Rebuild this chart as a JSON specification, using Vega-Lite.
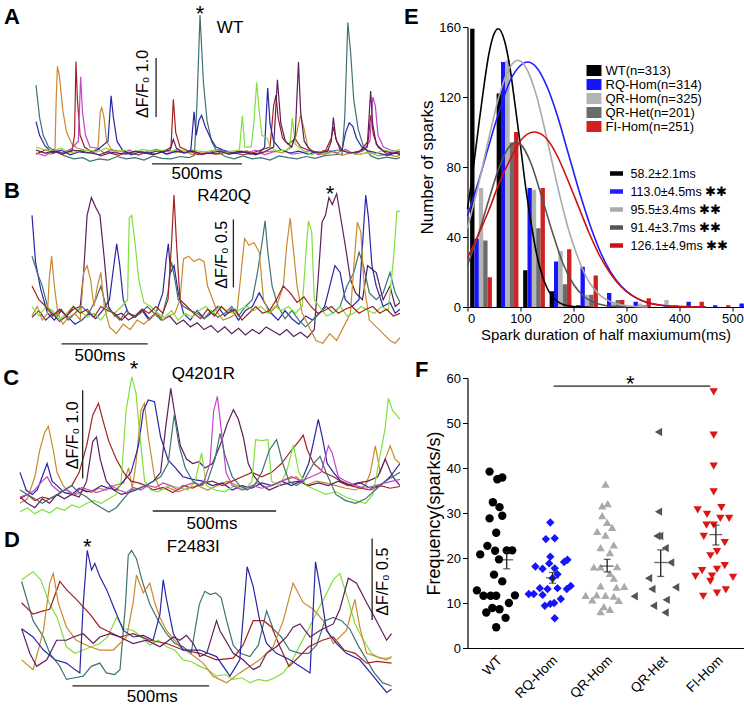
{
"$schema":"https://vega.github.io/schema/vega-lite/v6.json",
"padding":0,
"background":"white",
"spacing":3.5,
"resolve":{"scale":{"color":"independent","fill":"independent","stroke":"independent","shape":"independent"},"legend":{"color":"independent","fill":"independent","stroke":"independent","shape":"independent"}},
"config":{"view":{"stroke":null},"font":"Liberation Sans","axis":{"domainColor":"#000","tickColor":"#000","labelColor":"#000","titleColor":"#000","titleFontWeight":"normal","grid":false,"labelFont":"Liberation Sans","titleFont":"Liberation Sans"},"legend":{"labelFont":"Liberation Sans","labelColor":"#000"},"text":{"font":"Liberation Sans","color":"#000"}},
"datasets":{
"tr":[
{"p":"A","c":"teal","v":[[0,1.15],[20,0.6],[40,0.3],[70,0.1],[110,0.02],[160,-0.05],[210,-0.1],[260,-0.08],[300,-0.14],[350,-0.1],[400,-0.12],[450,-0.06],[500,-0.1],[550,-0.08],[600,-0.12],[650,-0.05],[700,-0.09],[750,-0.1],[800,-0.06],[850,-0.08],[880,-0.04],[895,0.9],[911,2.34],[930,1.2],[950,0.55],[975,0.2],[1000,0.05],[1050,-0.06],[1100,-0.1],[1150,-0.05],[1200,-0.1],[1250,-0.08],[1300,-0.12],[1350,-0.05],[1400,-0.08],[1450,-0.1],[1500,-0.06],[1550,-0.09],[1600,-0.05],[1650,-0.03],[1700,-0.02],[1715,0.6],[1732,2.21],[1748,1.7],[1765,0.9],[1790,0.4],[1820,0.1],[1860,-0.05],[1900,-0.1],[1950,-0.07],[2000,-0.1],[2022,-0.08]]},
{"p":"A","c":"orange","v":[[0,0.05],[40,0],[80,-0.02],[105,0],[112,0.9],[119,1.47],[130,1.3],[150,0.7],[170,0.35],[200,0.15],[230,0.08],[270,0.05],[320,0.02],[345,0.1],[357,0.7],[365,0.77],[378,0.6],[392,0.2],[420,0.05],[470,0.03],[520,-0.02],[570,0.04],[620,0],[670,0.03],[720,0.05],[770,0],[820,0.04],[870,-0.03],[920,0.02],[970,0],[1020,-0.02],[1070,0.03],[1120,0],[1170,0.04],[1220,-0.02],[1270,0.02],[1320,0.03],[1370,0],[1420,0.1],[1445,0.3],[1470,0.64],[1490,0.4],[1510,0.1],[1550,0],[1600,-0.03],[1650,0.02],[1700,-0.04],[1750,0],[1800,-0.03],[1850,0.02],[1900,-0.05],[1950,-0.02],[2000,-0.06],[2022,-0.04]]},
{"p":"A","c":"red","v":[[0,-0.02],[50,0.05],[100,0.02],[150,0],[200,0.03],[214,0.3],[222,1.55],[230,0.9],[245,0.3],[270,0.1],[310,0.02],[360,-0.05],[410,0],[460,-0.04],[510,0.02],[560,-0.03],[610,0],[660,-0.02],[710,0.02],[750,0.1],[763,0.91],[776,0.35],[800,0.1],[850,0.03],[900,-0.03],[950,0],[1000,-0.02],[1050,0.02],[1100,0],[1150,-0.03],[1200,0],[1250,0.05],[1300,0.1],[1320,0.8],[1333,0.98],[1345,0.6],[1370,0.25],[1400,0.15],[1440,0.24],[1470,0.1],[1510,0.05],[1560,0],[1610,0.05],[1640,0.25],[1652,0.44],[1670,0.2],[1700,0.05],[1750,0],[1800,0.03],[1845,0.2],[1859,0.64],[1875,0.3],[1900,0.1],[1950,-0.02],[2000,0],[2022,-0.03]]},
{"p":"A","c":"magenta","v":[[0,0],[50,-0.05],[100,0.06],[150,0],[200,0.08],[235,0.2],[248,1.29],[258,0.7],[275,0.3],[300,0.1],[340,0.08],[380,0],[420,0.06],[470,-0.02],[520,0.05],[570,-0.04],[620,0.03],[670,0.06],[720,-0.02],[770,0.04],[820,0],[870,0.05],[920,-0.03],[970,0.02],[1020,0.06],[1070,-0.02],[1120,0.03],[1170,0],[1220,0.05],[1270,-0.03],[1320,0.02],[1370,0.05],[1420,-0.02],[1470,0],[1520,0.04],[1570,-0.03],[1620,0.05],[1670,0],[1720,0.06],[1770,-0.02],[1820,0.04],[1855,0.2],[1871,0.95],[1885,0.8],[1900,0.3],[1930,0.1],[1970,0.05],[2022,0.02]]},
{"p":"A","c":"blue","v":[[0,0.53],[20,0.3],[50,0.12],[90,0],[140,0.05],[190,-0.03],[240,0.02],[290,0],[340,0.05],[400,0.2],[417,0.97],[430,0.6],[450,0.2],[480,0.05],[530,-0.03],[580,0.02],[630,0],[680,0.04],[730,-0.02],[780,0.03],[830,0],[860,0.05],[878,0.7],[890,0.3],[905,0.55],[920,0.64],[940,0.45],[970,0.25],[1000,0.1],[1040,0.05],[1090,0],[1140,0.03],[1190,-0.02],[1240,0],[1270,0.1],[1287,1.1],[1300,0.5],[1320,0.2],[1360,0.05],[1410,0],[1460,0.03],[1510,-0.02],[1560,0.02],[1610,0],[1660,0.04],[1700,0.05],[1720,0.35],[1740,0.51],[1760,0.45],[1780,0.25],[1810,0.1],[1850,0.03],[1900,0],[1950,-0.04],[2000,0],[2022,-0.02]]},
{"p":"A","c":"green","v":[[0,0.1],[40,0.06],[90,0.03],[140,0.08],[190,0],[240,0.04],[290,0.05],[340,0.02],[390,0.08],[440,0.02],[490,0.05],[540,0],[590,0.06],[640,0.03],[690,0.05],[740,0.02],[790,0.07],[840,0],[890,0.04],[940,0.02],[990,0.05],[1040,0],[1090,0.03],[1130,0.05],[1146,0.63],[1160,0.1],[1195,0.1],[1210,0.5],[1226,1.2],[1240,0.7],[1255,0.3],[1285,0.25],[1300,0.1],[1340,0.03],[1390,0.05],[1410,0.1],[1424,0.59],[1440,0.15],[1480,0.05],[1530,-0.03],[1580,0.02],[1630,0],[1680,0.05],[1730,0.02],[1780,-0.03],[1830,0],[1880,-0.02],[1930,0.05],[1980,0.02],[2022,0.06]]},
{"p":"A","c":"purple","v":[[0,0.05],[50,0],[100,0.03],[150,-0.02],[200,0.05],[250,0.03],[300,0],[350,-0.03],[400,0.02],[450,0],[500,-0.02],[550,0.03],[600,0],[650,-0.03],[700,0.02],[745,0.05],[763,0.23],[780,0.08],[820,0],[870,0.03],[920,-0.02],[970,0],[1020,0.03],[1070,-0.02],[1120,0],[1170,0.02],[1220,-0.03],[1270,0.02],[1320,0.1],[1341,1.24],[1360,0.5],[1385,0.2],[1420,0.1],[1440,0.3],[1458,1.54],[1470,0.7],[1490,0.2],[1520,0.05],[1570,0],[1620,0.03],[1640,0.2],[1652,0.6],[1665,0.25],[1690,0.05],[1740,0],[1790,0.02],[1840,0.1],[1859,1.05],[1870,0.5],[1890,0.15],[1930,0.03],[1980,0],[2022,0.02]]},
{"p":"B","c":"purple","v":[[0,-0.03],[40,0.02],[80,-0.05],[120,0],[160,-0.06],[200,-0.02],[240,0.03],[280,0.05],[300,0.3],[320,0.72],[345,0.85],[370,0.78],[395,0.72],[420,0.4],[445,0.05],[480,-0.02],[520,0],[560,-0.05],[600,-0.02],[640,0.03],[680,-0.04],[720,0],[760,-0.05],[800,-0.02],[840,-0.08],[880,-0.05],[920,-0.1],[960,-0.07],[1000,-0.12],[1040,-0.09],[1080,-0.14],[1120,-0.1],[1160,-0.15],[1200,-0.11],[1240,-0.16],[1280,-0.12],[1320,-0.15],[1360,-0.1],[1400,-0.13],[1440,-0.16],[1480,-0.12],[1520,-0.17],[1560,-0.14],[1600,-0.18],[1640,-0.12],[1665,0.3],[1685,0.67],[1705,0.72],[1725,0.85],[1745,0.8],[1770,0.88],[1790,0.73],[1820,0.5],[1850,0.25],[1880,0.15],[1920,0.1],[1950,0.35],[2000,0.3],[2040,0.1],[2080,0.2],[2110,0.05],[2138,0.08]]},
{"p":"B","c":"blue","v":[[0,0.72],[20,0.38],[50,0.18],[90,0],[130,-0.05],[170,0.02],[210,-0.03],[250,-0.08],[290,-0.05],[330,0],[370,-0.04],[410,0.02],[450,0.1],[470,0.3],[492,0.51],[510,0.35],[530,0.1],[560,0],[600,-0.03],[640,0.02],[680,-0.05],[720,0],[760,0.15],[780,0.4],[792,0.51],[805,0.3],[825,0.35],[850,0.15],[880,0],[920,-0.05],[960,0.02],[1000,-0.04],[1040,0],[1080,0.05],[1120,-0.02],[1160,0.03],[1200,-0.05],[1240,0.02],[1280,0.05],[1320,0.15],[1350,0.08],[1390,0],[1430,-0.05],[1470,0.02],[1510,-0.04],[1550,-0.08],[1590,-0.02],[1630,-0.05],[1670,0],[1700,0.05],[1730,0.2],[1760,0.35],[1790,0.3],[1820,0.1],[1860,0.05],[1900,0.1],[1925,0.6],[1939,0.87],[1955,0.7],[1975,0.35],[2000,0.2],[2040,0.05],[2080,0.08],[2110,0],[2138,0.03]]},
{"p":"B","c":"teal","v":[[0,0.42],[30,0.3],[60,0.2],[90,0.05],[130,-0.02],[170,0.03],[210,-0.05],[250,0],[290,0.05],[330,0],[370,0.1],[400,0.2],[430,0.05],[470,0],[510,-0.05],[550,0.02],[590,-0.03],[630,0],[670,0.05],[710,0],[750,-0.05],[790,0.15],[810,0.38],[830,0.25],[850,0.1],[880,0.05],[920,0.02],[960,0],[1000,-0.04],[1040,0.02],[1080,-0.03],[1120,0],[1160,0.05],[1200,-0.02],[1240,0.05],[1280,0.1],[1310,0.3],[1340,0.55],[1354,0.68],[1370,0.45],[1395,0.2],[1430,0.05],[1470,-0.04],[1510,0.02],[1550,-0.05],[1590,-0.1],[1630,-0.05],[1670,0],[1710,0.05],[1750,0],[1790,0.05],[1830,0.2],[1870,0.3],[1900,0.45],[1925,0.35],[1960,0.15],[2000,0.1],[2040,0.15],[2080,0.3],[2110,0.15],[2138,0.08]]},
{"p":"B","c":"orange","v":[[0,-0.02],[30,0.05],[60,-0.05],[90,0],[100,0.25],[114,0.42],[130,0.2],[150,0],[180,-0.08],[210,-0.03],[250,0],[280,-0.05],[300,0.3],[320,0.35],[340,0.25],[360,0.05],[380,0.2],[400,0.3],[420,0.05],[450,-0.1],[490,-0.15],[530,-0.08],[570,-0.12],[610,-0.05],[650,-0.08],[690,-0.03],[730,0],[760,-0.05],[790,-0.02],[830,0],[860,0.1],[880,0.4],[910,0.42],[940,0.38],[970,0.4],[1000,0.38],[1020,0.2],[1050,0.1],[1080,0],[1110,-0.05],[1150,-0.03],[1190,0],[1215,0.3],[1235,0.55],[1260,0.5],[1290,0.52],[1320,0.45],[1345,0.1],[1380,0],[1420,0.05],[1460,0.2],[1480,0.5],[1500,0.7],[1520,0.45],[1540,0.2],[1570,0],[1610,-0.1],[1650,-0.2],[1690,-0.22],[1730,-0.15],[1770,-0.2],[1810,-0.1],[1850,0],[1870,0.35],[1890,0.67],[1910,0.6],[1930,0.2],[1960,-0.05],[2000,-0.1],[2040,-0.15],[2080,-0.2],[2110,-0.22],[2138,-0.18]]},
{"p":"B","c":"green","v":[[0,0.05],[40,-0.02],[80,0.05],[120,0.02],[160,-0.05],[200,0],[240,0.05],[280,0.02],[320,-0.03],[360,0],[400,-0.05],[440,0.02],[480,0],[520,0.05],[555,0.1],[565,0.7],[579,0.72],[600,0.5],[620,0.25],[650,0.08],[690,0.05],[730,0],[770,-0.03],[810,0.02],[850,-0.05],[890,0],[930,-0.03],[970,0.02],[1010,0.05],[1050,0],[1090,0.05],[1130,0.02],[1170,0],[1210,0.03],[1250,0.05],[1290,0.02],[1330,0.05],[1370,0],[1410,0.05],[1450,0.02],[1490,0.05],[1530,0],[1570,0.05],[1595,0.5],[1606,0.68],[1625,0.6],[1640,0.1],[1670,0.05],[1710,-0.02],[1750,0],[1790,0.05],[1830,-0.02],[1870,0],[1910,0.05],[1950,0.02],[1990,0],[2030,0.05],[2070,0.02],[2100,0.4],[2120,0.75],[2138,0.75]]},
{"p":"B","c":"red","v":[[0,0.2],[40,0.1],[80,0.05],[120,-0.02],[160,0.03],[200,-0.02],[240,0.05],[280,0],[320,0.03],[360,-0.03],[400,0.05],[440,0.02],[480,0],[520,-0.05],[560,0],[600,-0.02],[640,0.03],[680,0],[720,0.05],[760,0],[790,0.1],[810,0.5],[825,0.87],[840,0.5],[860,0.1],[900,0.05],[940,0],[980,-0.04],[1020,0.03],[1060,-0.02],[1100,0.05],[1140,0],[1180,0.03],[1220,-0.05],[1260,0],[1300,0.05],[1340,0],[1380,0.02],[1420,0.1],[1460,0.2],[1500,0.15],[1540,0.08],[1580,0.12],[1620,0.05],[1660,0],[1700,0.02],[1740,0.05],[1780,0],[1820,0.03],[1860,0.05],[1900,0],[1940,0.03],[1980,0.05],[2020,0],[2060,0.03],[2100,-0.02],[2138,0]]},
{"p":"C","c":"orange","v":[[0,-0.15],[30,-0.1],[60,0.15],[80,0.45],[100,0.65],[115,0.72],[135,0.45],[150,0.2],[175,0.05],[200,-0.03],[230,-0.05],[260,0],[290,-0.03],[320,0.02],[350,0],[380,0.05],[420,0.08],[440,0.25],[455,0.02],[470,0.3],[490,0.9],[504,0.98],[520,0.6],[545,0.15],[570,0],[600,0.03],[640,-0.02],[680,0.02],[720,0.05],[760,0],[800,0.05],[840,0.1],[880,0.05],[920,0.02],[960,0.08],[1000,0.03],[1040,0.08],[1080,0.12],[1120,0.15],[1160,0.05],[1200,0.1],[1240,0.08],[1280,0.05],[1320,0.02],[1360,0],[1400,0.05],[1420,0.2],[1440,0.5],[1460,0.2],[1480,0.35],[1500,0.5],[1520,0.35],[1540,0.3]]},
{"p":"C","c":"blue","v":[[0,0.2],[25,0],[50,-0.05],[70,0],[90,0.15],[110,0.3],[130,0.1],[150,0.05],[180,-0.03],[210,-0.05],[240,0.02],[270,-0.02],[300,0],[330,0.05],[360,0.02],[390,0],[420,0.1],[450,0.2],[480,0.5],[500,0.9],[520,1.02],[545,1],[570,0.6],[600,0.34],[630,0.25],[660,0.15],[700,0.12],[740,0.1],[780,0.05],[820,0.08],[860,0],[900,0.05],[940,0.02],[980,0.08],[1020,0.05],[1060,0.1],[1100,0.05],[1140,0.1],[1170,0.3],[1190,0.55],[1209,0.8],[1225,0.6],[1245,0.3],[1270,0.2],[1300,0.1],[1340,0.05],[1380,0.08],[1420,0.02],[1460,0.05],[1500,0.15],[1540,0.3]]},
{"p":"C","c":"red","v":[[0,-0.1],[30,-0.05],[60,-0.12],[90,-0.08],[120,-0.1],[150,-0.06],[180,0],[210,0.05],[240,0.2],[270,0.5],[295,0.85],[318,0.98],[335,0.8],[360,0.55],[390,0.35],[420,0.2],[450,0.1],[480,0.08],[510,0.05],[540,0],[580,0.03],[620,-0.03],[660,0.05],[700,0.02],[740,0.08],[780,0.1],[820,0.05],[860,0.1],[900,0.15],[940,0.2],[980,0.15],[1020,0.2],[1060,0.3],[1100,0.45],[1130,0.55],[1148,0.62],[1165,0.45],[1190,0.3],[1230,0.2],[1270,0.15],[1300,0.1],[1340,0.05],[1380,0.02],[1420,0],[1460,0.05],[1500,0.02],[1540,0.04]]},
{"p":"C","c":"purple","v":[[0,-0.08],[30,-0.15],[60,-0.2],[90,-0.1],[120,-0.15],[150,-0.05],[180,-0.1],[210,-0.05],[240,-0.08],[270,0.1],[295,0.55],[310,0.6],[325,0.35],[350,0.1],[380,0],[410,-0.05],[440,-0.03],[470,0],[510,0.05],[540,0.1],[570,0.2],[590,0.7],[611,1.15],[625,0.9],[650,0.5],[675,0.35],[700,0.3],[725,0.32],[750,0.25],[780,0.3],[810,0.5],[840,0.75],[865,0.91],[885,0.8],[905,0.6],[925,0.3],[950,0.15],[980,0.05],[1010,0],[1050,0.05],[1090,0.08],[1130,0.1],[1170,0.05],[1210,0.08],[1250,0.05],[1290,0.1],[1330,0.05],[1370,0.08],[1410,0.1],[1450,0.15],[1480,0.35],[1510,0.15],[1540,0.05]]},
{"p":"C","c":"green","v":[[0,-0.25],[30,-0.2],[60,-0.27],[90,-0.22],[120,-0.26],[150,-0.2],[180,-0.23],[210,-0.17],[240,-0.2],[270,-0.15],[300,-0.12],[330,-0.15],[360,-0.1],[390,-0.05],[410,0.1],[430,0.9],[453,1.28],[470,1.1],[490,0.5],[505,0.1],[530,0],[560,-0.02],[600,0.05],[640,0.03],[680,0],[710,0.1],[736,0.42],[755,0.05],[790,0],[830,-0.02],[870,0.05],[910,0],[940,0.1],[955,0.57],[980,0.56],[1005,0.57],[1020,0.1],[1050,0.05],[1080,0.2],[1108,0.51],[1130,0.2],[1160,0.05],[1200,0],[1240,-0.05],[1280,-0.02],[1320,-0.08],[1360,-0.12],[1400,-0.15],[1430,-0.05],[1460,0.4],[1480,0.7],[1493,1.04],[1510,0.9],[1540,0.8]]},
{"p":"C","c":"magenta","v":[[0,-0.08],[30,-0.05],[60,0],[90,0.1],[110,0.15],[130,0.05],[160,-0.02],[190,0],[220,-0.05],[250,0.03],[280,0],[310,-0.03],[340,0],[370,0.05],[400,0],[430,-0.03],[460,0.03],[490,0],[520,0.05],[550,0.03],[580,0.08],[610,0.05],[640,0],[670,0.05],[700,0.08],[740,0.05],[770,0.3],[785,0.9],[800,1.06],[815,0.7],[835,0.2],[860,0.05],[900,0],[940,0.05],[980,0.02],[1020,0.05],[1060,0.1],[1100,0.15],[1140,0.1],[1180,0.15],[1220,0.2],[1250,0.5],[1265,0.42],[1290,0.15],[1320,0.1],[1360,0.05],[1400,0.02],[1440,0.05],[1480,0.08],[1510,0.1],[1540,0.12]]},
{"p":"C","c":"teal","v":[[0,0],[30,-0.05],[60,-0.1],[90,-0.15],[120,-0.1],[150,-0.05],[180,0],[210,0.05],[240,-0.03],[270,-0.08],[300,-0.15],[330,-0.2],[360,-0.25],[390,-0.2],[420,-0.1],[450,0],[480,0.02],[510,0.05],[540,0.1],[570,0.15],[600,0.3],[625,0.85],[645,0.5],[670,0.25],[700,0.1],[730,0.05],[760,0.1],[790,0.35],[811,0.64],[830,0.4],[860,0.15],[890,0.05],[920,0],[950,0.05],[980,0.2],[1010,0.45],[1040,0.57],[1065,0.3],[1090,0.1],[1120,0.05],[1150,0.1],[1190,0.3],[1216,0.38],[1240,0.2],[1280,-0.05],[1320,-0.12],[1360,-0.15],[1400,-0.1],[1440,0],[1480,0.1],[1510,0.15],[1540,0.2]]},
{"p":"D","c":"green","v":[[0,0.45],[42,0.5],[70,0.45],[103,0.3],[130,0.22],[164,0.04],[195,0],[225,0.02],[255,0.04],[286,0.06],[315,0.1],[347,0.22],[375,0.15],[408,0.14],[440,0.1],[469,0.05],[500,0.08],[530,0.04],[560,0.02],[591,-0.04],[620,-0.05],[652,-0.08],[680,-0.1],[713,-0.14],[745,-0.13],[774,-0.16],[805,-0.15],[835,-0.18],[866,-0.16],[896,-0.17],[927,-0.15],[957,-0.12],[988,-0.05],[1018,0.05],[1050,0.15],[1079,0.25],[1110,0.35],[1140,0.45],[1164,0.49],[1190,0.35],[1220,0.18],[1250,0.08],[1280,0],[1310,-0.03],[1353,-0.03]]},
{"p":"D","c":"teal","v":[[0,0.44],[42,0.2],[80,0.1],[103,0],[140,-0.08],[164,-0.16],[195,-0.15],[225,-0.14],[255,-0.08],[286,-0.06],[310,-0.12],[340,-0.13],[360,-0.1],[380,0.3],[390,0.6],[402,0.63],[420,0.58],[440,0.45],[469,0.3],[500,0.2],[530,0.12],[560,0.06],[591,0.04],[620,0],[650,0.3],[670,0.38],[690,0.36],[710,0.37],[730,0.34],[750,0.2],[774,0.05],[800,0],[835,-0.02],[866,0.05],[896,0.26],[920,0.15],[950,0.1],[980,0.02],[1018,0],[1050,0],[1079,0.05],[1110,0.2],[1140,0.22],[1170,0.2],[1200,0.15],[1230,0.05],[1262,-0.04],[1290,-0.12],[1320,-0.18],[1353,-0.2]]},
{"p":"D","c":"red","v":[[0,0.31],[42,0.24],[80,0.26],[103,0.27],[140,0.44],[164,0.39],[200,0.33],[250,0.24],[286,0.16],[335,0.12],[360,0.1],[408,0.12],[469,0.08],[530,0.06],[591,0.02],[652,0],[713,-0.04],[774,-0.03],[810,0.05],[847,0.2],[885,0.2],[915,0.16],[945,0.04],[978,-0.08],[1015,-0.02],[1050,0.04],[1100,0.08],[1140,0.1],[1180,0.02],[1220,0],[1262,-0.06],[1300,-0.05],[1353,-0.06]]},
{"p":"D","c":"orange","v":[[0,-0.04],[42,-0.1],[80,0.14],[103,0.43],[116,0.49],[134,0.31],[164,0.16],[200,0.08],[250,0.04],[286,0.02],[335,0.02],[384,0.1],[408,0.31],[420,0.48],[445,0.37],[469,0.43],[487,0.31],[506,0.22],[530,0.14],[579,0.04],[616,0],[664,-0.06],[700,-0.14],[750,-0.18],[798,-0.12],[871,-0.04],[920,0.04],[957,0.2],[993,0.43],[1030,0.31],[1067,0.27],[1103,0.2],[1140,0.06],[1188,0.14],[1219,0.33],[1237,0.16],[1262,0],[1298,-0.02],[1335,-0.04],[1353,-0.02]]},
{"p":"D","c":"blue","v":[[0,0.15],[42,0.1],[80,0.02],[122,-0.04],[164,-0.06],[195,-0.1],[213,-0.12],[225,0.29],[240,0.63],[256,0.51],[268,0.55],[286,0.47],[311,0.39],[335,0.29],[372,0.14],[408,0.1],[445,0.11],[481,0.08],[506,0.24],[518,0.45],[530,0.33],[555,0.12],[591,0.02],[652,0.02],[713,-0.02],[762,-0.14],[798,-0.04],[825,0.53],[847,0.41],[871,0.2],[896,0.06],[932,0],[981,-0.04],[1018,-0.08],[1055,-0.12],[1075,0.56],[1091,0.41],[1115,0.14],[1152,0.06],[1188,0],[1237,-0.04],[1286,-0.14],[1335,-0.24],[1353,-0.22]]},
{"p":"D","c":"purple","v":[[0,0.15],[30,0],[55,-0.08],[92,-0.04],[128,0.08],[164,0.08],[189,0.1],[225,0.12],[262,0.06],[286,0.1],[323,0.12],[359,0.1],[408,0.06],[457,0.08],[506,0.04],[555,0.1],[579,0.08],[603,0.11],[628,0.06],[652,-0.02],[677,0],[713,0.2],[725,0.14],[774,0],[810,-0.04],[847,-0.1],[871,-0.08],[896,0],[932,0.04],[969,0.1],[993,0.16],[1018,0.18],[1055,0.1],[1091,0.14],[1140,0.18],[1164,0.27],[1195,0.46],[1225,0.43],[1262,0.31],[1298,0.2],[1335,0.08],[1353,0.12]]}
],
"sc":[
{"p":"A","t":644,"t2":1144,"y":-0.186,"y2":-0.186},{"p":"A","t":667,"t2":667,"y":0.61,"y2":1.61},
{"p":"B","t":172,"t2":672,"y":-0.225,"y2":-0.225},{"p":"B","t":1170,"t2":1170,"y":0.19,"y2":0.69},
{"p":"C","t":538,"t2":1038,"y":-0.238,"y2":-0.238},{"p":"C","t":254,"t2":254,"y":0.13,"y2":1.13},
{"p":"D","t":186,"t2":686,"y":-0.2,"y2":-0.2},{"p":"D","t":1282,"t2":1282,"y":0.204,"y2":0.704}
],
"ann":[
{"p":"A","k":"L","t":-133,"y":2.31,"s":"A"},{"p":"A","k":"N","t":1078,"y":2.12,"s":"WT"},{"p":"A","k":"S","t":911,"y":2.36,"s":"*"},{"p":"A","k":"N","t":894,"y":-0.356,"s":"500ms"},{"p":"A","k":"R","t":594,"y":1.17,"s":"ΔF/F₀ 1.0"},
{"p":"B","k":"L","t":-116,"y":0.9,"s":"B"},{"p":"B","k":"N","t":1116,"y":0.86,"s":"R420Q"},{"p":"B","k":"S","t":1732,"y":0.877,"s":"*"},{"p":"B","k":"N","t":395,"y":-0.314,"s":"500ms"},{"p":"B","k":"R","t":1102,"y":0.43,"s":"ΔF/F₀ 0.5"},
{"p":"C","k":"L","t":-36,"y":1.27,"s":"C"},{"p":"C","k":"N","t":743,"y":1.31,"s":"Q4201R"},{"p":"C","k":"S","t":462,"y":1.37,"s":"*"},{"p":"C","k":"N","t":778,"y":-0.385,"s":"500ms"},{"p":"C","k":"R","t":216,"y":0.62,"s":"ΔF/F₀ 1.0"},
{"p":"D","k":"L","t":-35,"y":0.694,"s":"D"},{"p":"D","k":"N","t":628,"y":0.653,"s":"F2483I"},{"p":"D","k":"S","t":240,"y":0.651,"s":"*"},{"p":"D","k":"N","t":478,"y":-0.27,"s":"500ms"},{"p":"D","k":"R","t":1322,"y":0.439,"s":"ΔF/F₀ 0.5"}
],
"hist":[
{"b":0,"g":"WT","n":159},{"b":50,"g":"WT","n":122},{"b":100,"g":"WT","n":21},{"b":150,"g":"WT","n":9},{"b":200,"g":"WT","n":1},
{"b":0,"g":"RQ-Hom","n":39},{"b":50,"g":"RQ-Hom","n":140},{"b":100,"g":"RQ-Hom","n":68},{"b":150,"g":"RQ-Hom","n":26},{"b":200,"g":"RQ-Hom","n":23},{"b":250,"g":"RQ-Hom","n":8},{"b":300,"g":"RQ-Hom","n":3},{"b":400,"g":"RQ-Hom","n":3},{"b":450,"g":"RQ-Hom","n":1},{"b":500,"g":"RQ-Hom","n":2},
{"b":0,"g":"QR-Hom","n":68},{"b":50,"g":"QR-Hom","n":141},{"b":100,"g":"QR-Hom","n":67},{"b":150,"g":"QR-Hom","n":32},{"b":200,"g":"QR-Hom","n":7},{"b":250,"g":"QR-Hom","n":3},{"b":300,"g":"QR-Hom","n":2},{"b":350,"g":"QR-Hom","n":4},
{"b":0,"g":"QR-Het","n":38},{"b":50,"g":"QR-Het","n":94},{"b":100,"g":"QR-Het","n":45},{"b":150,"g":"QR-Het","n":13},{"b":200,"g":"QR-Het","n":7},{"b":250,"g":"QR-Het","n":4},{"b":300,"g":"QR-Het","n":1},
{"b":0,"g":"FI-Hom","n":17},{"b":50,"g":"FI-Hom","n":100},{"b":100,"g":"FI-Hom","n":68},{"b":150,"g":"FI-Hom","n":33},{"b":200,"g":"FI-Hom","n":18},{"b":250,"g":"FI-Hom","n":4},{"b":300,"g":"FI-Hom","n":5},{"b":350,"g":"FI-Hom","n":1},{"b":400,"g":"FI-Hom","n":3},{"b":450,"g":"FI-Hom","n":1}
],
"fit":[
{"h":"58.2±2.1ms","v":[[0,56],[10,77],[20,101],[30,124],[40,144],[50,156],[58,159],[70,152],[80,137],[90,115],[100,92],[110,68],[120,48],[130,31],[140,19],[150,11],[160,6],[180,1.5],[200,0.3],[230,0]]},
{"h":"113.0±4.5ms","v":[[0,52],[20,71],[40,92],[60,112],[80,129],[100,138],[113,140],[130,137],[150,126],[170,109],[190,88],[210,67],[230,48],[250,32],[270,20],[290,12],[310,6.8],[330,3.5],[350,1.7],[370,0.8],[400,0.2],[450,0]]},
{"h":"95.5±3.4ms","v":[[0,45],[20,69],[40,96],[60,121],[80,137],[95,141],[110,137],[130,121],[150,96],[170,69],[190,45],[210,27],[230,14],[250,6.8],[270,3],[290,1.2],[310,0.4],[340,0]]},
{"h":"91.4±3.7ms","v":[[0,24],[20,41],[40,61],[60,80],[80,92],[91,94],[100,93],[120,82],[140,63],[160,43],[180,25],[200,13],[220,6],[240,2.4],[260,0.9],[280,0.3],[300,0]]},
{"h":"126.1±4.9ms","v":[[0,28],[20,41],[40,55],[60,71],[80,84],[100,95],[126,100],[150,96],[170,86],[190,72],[210,57],[230,42],[250,29],[270,19],[290,11.6],[310,6.6],[330,3.6],[350,1.8],[370,0.85],[400,0.2],[450,0]]}
],
"pts":[
{"g":"WT","v":[[-0.1,39.2],[0.04,37.5],[0.13,37.9],[-0.04,32.4],[0.08,31.3],[-0.1,28.8],[0.13,29.4],[0.02,25.6],[-0.27,20.8],[-0.14,22.7],[0,21.6],[0.07,19.7],[0.21,21.7],[0.31,21.7],[-0.02,16.3],[0.13,14.8],[-0.33,12.8],[-0.21,11.6],[-0.08,11.6],[0.02,11.6],[0.36,11.7],[0.25,10],[-0.16,7.9],[-0.05,8.9],[0.08,8.6],[0.19,6.7],[0.02,4.6]]},
{"g":"RQ-Hom","v":[[0,27.9],[-0.08,24.2],[0.08,24.4],[0,20.3],[-0.27,18.1],[-0.14,17.6],[-0.02,18.8],[0.08,17.7],[0.25,19.1],[0.31,19.6],[0.13,16.4],[0.04,15.5],[-0.19,13.3],[-0.05,13.1],[-0.3,12],[-0.39,12],[-0.14,11.8],[0.13,13.3],[0.3,13.1],[0.37,13.8],[0.19,10.9],[-0.1,9.4],[0,9.8],[0.07,10],[0.08,6.6]]},
{"g":"QR-Hom","v":[[0,36.4],[-0.06,31.6],[0.04,32.1],[-0.06,29.4],[0.03,27.9],[0.12,26.8],[-0.15,25.9],[0,25.1],[-0.09,22.3],[0.15,22.9],[0.08,21.2],[-0.21,18],[-0.09,18],[0.21,18.1],[0.08,16.6],[0.15,15.5],[-0.09,13.8],[0.2,13.5],[0.34,13.7],[-0.36,11.7],[-0.16,11.8],[0,11.7],[0.15,11.5],[-0.24,10.7],[0.24,10.6],[-0.03,9.2],[-0.09,8.1],[0.08,8.6]]},
{"g":"QR-Het","v":[[-0.04,48],[-0.04,30.3],[-0.07,24.9],[-0.02,24.9],[0.08,22.2],[-0.22,15.5],[0.18,19],[-0.16,13.1],[-0.48,11.5],[0.27,13.5],[0.1,10.7],[-0.13,9.4],[0.08,7.9]]},
{"g":"FI-Hom","v":[[-0.04,56.9],[-0.04,47.3],[-0.04,40.4],[-0.04,34.7],[-0.33,30.7],[-0.16,29.7],[0.1,31.2],[0.08,28.8],[0.24,28.8],[-0.17,27.3],[-0.04,27.3],[-0.22,24.8],[0.16,23.4],[-0.1,20.5],[0.02,21.4],[-0.25,17.2],[0.02,17.5],[0.16,18.3],[-0.07,16],[-0.37,15.9],[0.31,15.7],[-0.1,14.8],[-0.23,11.5],[0.02,12.2],[0.18,12.9]]}
],
"err":[
{"g":"WT","j":0.21,"m":19.6,"lo":17.6,"hi":21.4},
{"g":"RQ-Hom","j":0.04,"m":15.6,"lo":14.4,"hi":16.8},
{"g":"QR-Hom","j":0.03,"m":18.2,"lo":16.9,"hi":19.7},
{"g":"QR-Het","j":0,"m":19,"lo":15.9,"hi":21.8},
{"g":"FI-Hom","j":0,"m":25.2,"lo":22.9,"hi":27.3}
]
},
"hconcat":[
{"vconcat":[
{"width":400,"height":180,"layer":[
{"data":{"name":"tr"},"transform":[{"filter":"datum.p==='A'"},{"flatten":["v"]}],"mark":{"type":"line","strokeWidth":1.2,"clip":true},"encoding":{"x":{"field":"v[0]","type":"quantitative","scale":{"domain":[-200,2022],"nice":false,"zero":false},"axis":null},"y":{"field":"v[1]","type":"quantitative","scale":{"domain":[-0.458,2.593],"nice":false,"zero":false},"axis":null},"color":{"field":"c","type":"nominal","scale":{"domain":["teal","blue","orange","red","magenta","green","purple"],"range":["#3f7272","#2727a6","#c98a2e","#a3201f","#c444cc","#7fe03c","#5c1f5a"]},"legend":null}}},
{"data":{"name":"sc"},"transform":[{"filter":"datum.p==='A'"}],"mark":{"type":"rule","strokeWidth":1.3,"color":"#222"},"encoding":{"x":{"field":"t","type":"quantitative"},"x2":{"field":"t2"},"y":{"field":"y","type":"quantitative"},"y2":{"field":"y2"}}},
{"data":{"name":"ann"},"transform":[{"filter":"datum.p==='A'&&datum.k==='L'"}],"mark":{"type":"text","fontSize":22,"fontWeight":"bold"},"encoding":{"x":{"field":"t","type":"quantitative"},"y":{"field":"y","type":"quantitative"},"text":{"field":"s"}}},
{"data":{"name":"ann"},"transform":[{"filter":"datum.p==='A'&&datum.k==='N'"}],"mark":{"type":"text","fontSize":17},"encoding":{"x":{"field":"t","type":"quantitative"},"y":{"field":"y","type":"quantitative"},"text":{"field":"s"}}},
{"data":{"name":"ann"},"transform":[{"filter":"datum.p==='A'&&datum.k==='S'"}],"mark":{"type":"text","fontSize":22},"encoding":{"x":{"field":"t","type":"quantitative"},"y":{"field":"y","type":"quantitative"},"text":{"field":"s"}}},
{"data":{"name":"ann"},"transform":[{"filter":"datum.p==='A'&&datum.k==='R'"}],"mark":{"type":"text","fontSize":16,"angle":270},"encoding":{"x":{"field":"t","type":"quantitative"},"y":{"field":"y","type":"quantitative"},"text":{"field":"s"}}}
]},
{"width":400,"height":170,"layer":[
{"data":{"name":"tr"},"transform":[{"filter":"datum.p==='B'"},{"flatten":["v"]}],"mark":{"type":"line","strokeWidth":1.2,"clip":true},"encoding":{"x":{"field":"v[0]","type":"quantitative","scale":{"domain":[-186,2138],"nice":false,"zero":false},"axis":null},"y":{"field":"v[1]","type":"quantitative","scale":{"domain":[-0.27,0.98],"nice":false,"zero":false},"axis":null},"color":{"field":"c","type":"nominal","scale":{"domain":["teal","blue","orange","red","magenta","green","purple"],"range":["#3f7272","#2727a6","#c98a2e","#a3201f","#c444cc","#7fe03c","#5c1f5a"]},"legend":null}}},
{"data":{"name":"sc"},"transform":[{"filter":"datum.p==='B'"}],"mark":{"type":"rule","strokeWidth":1.3,"color":"#222"},"encoding":{"x":{"field":"t","type":"quantitative"},"x2":{"field":"t2"},"y":{"field":"y","type":"quantitative"},"y2":{"field":"y2"}}},
{"data":{"name":"ann"},"transform":[{"filter":"datum.p==='B'&&datum.k==='L'"}],"mark":{"type":"text","fontSize":22,"fontWeight":"bold"},"encoding":{"x":{"field":"t","type":"quantitative"},"y":{"field":"y","type":"quantitative"},"text":{"field":"s"}}},
{"data":{"name":"ann"},"transform":[{"filter":"datum.p==='B'&&datum.k==='N'"}],"mark":{"type":"text","fontSize":17},"encoding":{"x":{"field":"t","type":"quantitative"},"y":{"field":"y","type":"quantitative"},"text":{"field":"s"}}},
{"data":{"name":"ann"},"transform":[{"filter":"datum.p==='B'&&datum.k==='S'"}],"mark":{"type":"text","fontSize":22},"encoding":{"x":{"field":"t","type":"quantitative"},"y":{"field":"y","type":"quantitative"},"text":{"field":"s"}}},
{"data":{"name":"ann"},"transform":[{"filter":"datum.p==='B'&&datum.k==='R'"}],"mark":{"type":"text","fontSize":16,"angle":270},"encoding":{"x":{"field":"t","type":"quantitative"},"y":{"field":"y","type":"quantitative"},"text":{"field":"s"}}}
]},
{"width":400,"height":168,"layer":[
{"data":{"name":"tr"},"transform":[{"filter":"datum.p==='C'"},{"flatten":["v"]}],"mark":{"type":"line","strokeWidth":1.2,"clip":true},"encoding":{"x":{"field":"v[0]","type":"quantitative","scale":{"domain":[-81,1540],"nice":false,"zero":false},"axis":null},"y":{"field":"v[1]","type":"quantitative","scale":{"domain":[-0.317,1.585],"nice":false,"zero":false},"axis":null},"color":{"field":"c","type":"nominal","scale":{"domain":["teal","blue","orange","red","magenta","green","purple"],"range":["#3f7272","#2727a6","#c98a2e","#a3201f","#c444cc","#7fe03c","#5c1f5a"]},"legend":null}}},
{"data":{"name":"sc"},"transform":[{"filter":"datum.p==='C'"}],"mark":{"type":"rule","strokeWidth":1.3,"color":"#222"},"encoding":{"x":{"field":"t","type":"quantitative"},"x2":{"field":"t2"},"y":{"field":"y","type":"quantitative"},"y2":{"field":"y2"}}},
{"data":{"name":"ann"},"transform":[{"filter":"datum.p==='C'&&datum.k==='L'"}],"mark":{"type":"text","fontSize":22,"fontWeight":"bold"},"encoding":{"x":{"field":"t","type":"quantitative"},"y":{"field":"y","type":"quantitative"},"text":{"field":"s"}}},
{"data":{"name":"ann"},"transform":[{"filter":"datum.p==='C'&&datum.k==='N'"}],"mark":{"type":"text","fontSize":17},"encoding":{"x":{"field":"t","type":"quantitative"},"y":{"field":"y","type":"quantitative"},"text":{"field":"s"}}},
{"data":{"name":"ann"},"transform":[{"filter":"datum.p==='C'&&datum.k==='S'"}],"mark":{"type":"text","fontSize":22},"encoding":{"x":{"field":"t","type":"quantitative"},"y":{"field":"y","type":"quantitative"},"text":{"field":"s"}}},
{"data":{"name":"ann"},"transform":[{"filter":"datum.p==='C'&&datum.k==='R'"}],"mark":{"type":"text","fontSize":16,"angle":270},"encoding":{"x":{"field":"t","type":"quantitative"},"y":{"field":"y","type":"quantitative"},"text":{"field":"s"}}}
]},
{"width":400,"height":189,"layer":[
{"data":{"name":"tr"},"transform":[{"filter":"datum.p==='D'"},{"flatten":["v"]}],"mark":{"type":"line","strokeWidth":1.2,"clip":true},"encoding":{"x":{"field":"v[0]","type":"quantitative","scale":{"domain":[-79,1384],"nice":false,"zero":false},"axis":null},"y":{"field":"v[1]","type":"quantitative","scale":{"domain":[-0.329,0.829],"nice":false,"zero":false},"axis":null},"color":{"field":"c","type":"nominal","scale":{"domain":["teal","blue","orange","red","magenta","green","purple"],"range":["#3f7272","#2727a6","#c98a2e","#a3201f","#c444cc","#7fe03c","#5c1f5a"]},"legend":null}}},
{"data":{"name":"sc"},"transform":[{"filter":"datum.p==='D'"}],"mark":{"type":"rule","strokeWidth":1.3,"color":"#222"},"encoding":{"x":{"field":"t","type":"quantitative"},"x2":{"field":"t2"},"y":{"field":"y","type":"quantitative"},"y2":{"field":"y2"}}},
{"data":{"name":"ann"},"transform":[{"filter":"datum.p==='D'&&datum.k==='L'"}],"mark":{"type":"text","fontSize":22,"fontWeight":"bold"},"encoding":{"x":{"field":"t","type":"quantitative"},"y":{"field":"y","type":"quantitative"},"text":{"field":"s"}}},
{"data":{"name":"ann"},"transform":[{"filter":"datum.p==='D'&&datum.k==='N'"}],"mark":{"type":"text","fontSize":17},"encoding":{"x":{"field":"t","type":"quantitative"},"y":{"field":"y","type":"quantitative"},"text":{"field":"s"}}},
{"data":{"name":"ann"},"transform":[{"filter":"datum.p==='D'&&datum.k==='S'"}],"mark":{"type":"text","fontSize":22},"encoding":{"x":{"field":"t","type":"quantitative"},"y":{"field":"y","type":"quantitative"},"text":{"field":"s"}}},
{"data":{"name":"ann"},"transform":[{"filter":"datum.p==='D'&&datum.k==='R'"}],"mark":{"type":"text","fontSize":16,"angle":270},"encoding":{"x":{"field":"t","type":"quantitative"},"y":{"field":"y","type":"quantitative"},"text":{"field":"s"}}}
]}
],"spacing":0,"bounds":"flush"},
{"vconcat":[
{"width":276,"height":27,"data":{"values":[]},"mark":"point"},
{"width":276,"height":280,"resolve":{"scale":{"x":"independent"}},"layer":[
{"data":{"name":"hist"},"mark":{"type":"bar"},"encoding":{
"x":{"field":"b","type":"ordinal","scale":{"domain":[0,50,100,150,200,250,300,350,400,450,500],"range":[0,291.5],"paddingInner":0,"paddingOuter":0},"axis":null},
"xOffset":{"field":"g","type":"nominal","scale":{"domain":["WT","RQ-Hom","QR-Hom","QR-Het","FI-Hom"],"range":[2.65,24.4],"paddingInner":0,"paddingOuter":0}},
"y":{"field":"n","type":"quantitative","stack":null,"scale":{"domain":[0,160],"nice":false},"axis":{"values":[0,20,40,60,80,100,120,140,160],"title":"Number of sparks","titleFontSize":17,"labelFontSize":13,"tickSize":5,"labelPadding":2,"titlePadding":2,"domainWidth":1.2}},
"fill":{"field":"g","type":"nominal","scale":{"domain":["WT","RQ-Hom","QR-Hom","QR-Het","FI-Hom"],"range":["#000000","#1414ff","#b4b4b4","#6b6b6b","#d21f1f"]},"legend":{"orient":"none","legendX":120,"legendY":37,"title":null,"symbolType":"M-1.36,-1H1.36V1H-1.36Z","symbolSize":121,"symbolStrokeWidth":0,"labelFontSize":13,"rowPadding":0,"labelOffset":5,"labelExpr":"{'WT':'WT(n=313)','RQ-Hom':'RQ-Hom(n=314)','QR-Hom':'QR-Hom(n=325)','QR-Het':'QR-Het(n=201)','FI-Hom':'FI-Hom(n=251)'}[datum.label]"}}}},
{"data":{"name":"fit"},"transform":[{"flatten":["v"]}],"mark":{"type":"line","interpolate":"monotone","strokeWidth":1.6},"encoding":{
"x":{"field":"v[0]","type":"quantitative","scale":{"domain":[0,521],"nice":false,"zero":false},"axis":{"values":[0,100,200,300,400,500],"title":"Spark duration of half maxiumum(ms)","titleFontSize":15,"labelFontSize":13,"tickSize":4,"labelPadding":1,"titlePadding":2,"domainWidth":1.2}},
"y":{"field":"v[1]","type":"quantitative"},
"stroke":{"field":"h","type":"nominal","scale":{"domain":["58.2±2.1ms","113.0±4.5ms","95.5±3.4ms","91.4±3.7ms","126.1±4.9ms"],"range":["#000000","#1e1eff","#aaaaaa","#555555","#d01010"]},"legend":{"orient":"none","legendX":140,"legendY":137.5,"title":null,"symbolType":"stroke","symbolStrokeWidth":4.5,"symbolSize":169,"labelFontSize":12.5,"rowPadding":-5,"labelOffset":5,"labelExpr":"datum.label==='58.2±2.1ms'?datum.label:datum.label+' ✱✱'"}}}},
{"data":{"values":[{"x":-106,"y":166,"s":"E"}]},"mark":{"type":"text","fontSize":22,"fontWeight":"bold"},"encoding":{"x":{"field":"x","type":"quantitative","scale":{"domain":[0,521],"nice":false,"zero":false},"axis":null},"y":{"field":"y","type":"quantitative"},"text":{"field":"s"}}}
]},
{"width":276,"height":71,"data":{"values":[]},"mark":"point"},
{"width":276,"height":270,"layer":[
{"data":{"name":"pts"},"transform":[{"flatten":["v"]}],"mark":{"type":"point","filled":true,"opacity":1,"size":70},"encoding":{
"x":{"field":"g","type":"nominal","sort":["WT","RQ-Hom","QR-Hom","QR-Het","FI-Hom"],"scale":{"domain":["WT","RQ-Hom","QR-Hom","QR-Het","FI-Hom"],"paddingInner":0,"paddingOuter":0},"axis":{"title":null,"labelAngle":-45,"labelFontSize":13.5,"ticks":false,"labelPadding":5,"domainWidth":1.2}},
"xOffset":{"field":"v[0]","type":"quantitative","scale":{"domain":[-0.5,0.5],"range":[0,55.2]}},
"y":{"field":"v[1]","type":"quantitative","scale":{"domain":[0,60],"nice":false},"axis":{"values":[0,10,20,30,40,50,60],"title":"Frequency(sparks/s)","titleFontSize":18,"labelFontSize":13,"tickSize":5,"labelPadding":2,"titlePadding":3,"domainWidth":1.2}},
"color":{"field":"g","type":"nominal","scale":{"domain":["WT","RQ-Hom","QR-Hom","QR-Het","FI-Hom"],"range":["#000000","#1414ff","#aaaaaa","#555555","#dd1515"]},"legend":null},
"shape":{"field":"g","type":"nominal","scale":{"domain":["WT","RQ-Hom","QR-Hom","QR-Het","FI-Hom"],"range":["circle","diamond","triangle-up","triangle-left","triangle-down"]},"legend":null}}},
{"data":{"name":"err"},"mark":{"type":"rule","strokeWidth":1.3,"color":"#222"},"encoding":{"x":{"field":"g","type":"nominal"},"xOffset":{"field":"j","type":"quantitative"},"y":{"field":"lo","type":"quantitative"},"y2":{"field":"hi"}}},
{"data":{"name":"err"},"transform":[{"fold":["lo","hi"],"as":["k","val"]}],"mark":{"type":"tick","size":7,"thickness":1.3,"color":"#222"},"encoding":{"x":{"field":"g","type":"nominal"},"xOffset":{"field":"j","type":"quantitative"},"y":{"field":"val","type":"quantitative"}}},
{"data":{"name":"err"},"mark":{"type":"tick","size":13,"thickness":1.3,"color":"#222"},"encoding":{"x":{"field":"g","type":"nominal"},"xOffset":{"field":"j","type":"quantitative"},"y":{"field":"m","type":"quantitative"}}},
{"data":{"values":[{"g":"RQ-Hom","j":0.06,"v":58.2},{"g":"FI-Hom","j":-0.1,"v":58.2}]},"mark":{"type":"line","strokeWidth":1.3,"color":"#222"},"encoding":{"x":{"field":"g","type":"nominal"},"xOffset":{"field":"j","type":"quantitative"},"y":{"field":"v","type":"quantitative"}}},
{"data":{"values":[{"g":"QR-Hom","j":0.45,"v":58.6,"s":"*"}]},"mark":{"type":"text","fontSize":22},"encoding":{"x":{"field":"g","type":"nominal"},"xOffset":{"field":"j","type":"quantitative"},"y":{"field":"v","type":"quantitative"},"text":{"field":"s"}}},
{"data":{"values":[{"g":"WT","j":-1.33,"v":61.8,"s":"F"}]},"mark":{"type":"text","fontSize":22,"fontWeight":"bold"},"encoding":{"x":{"field":"g","type":"nominal"},"xOffset":{"field":"j","type":"quantitative"},"y":{"field":"v","type":"quantitative"},"text":{"field":"s"}}}
]}
],"spacing":0,"bounds":"flush","resolve":{"scale":{"color":"independent","fill":"independent","stroke":"independent","shape":"independent"},"legend":{"color":"independent","fill":"independent","stroke":"independent","shape":"independent"}}}
]
}
